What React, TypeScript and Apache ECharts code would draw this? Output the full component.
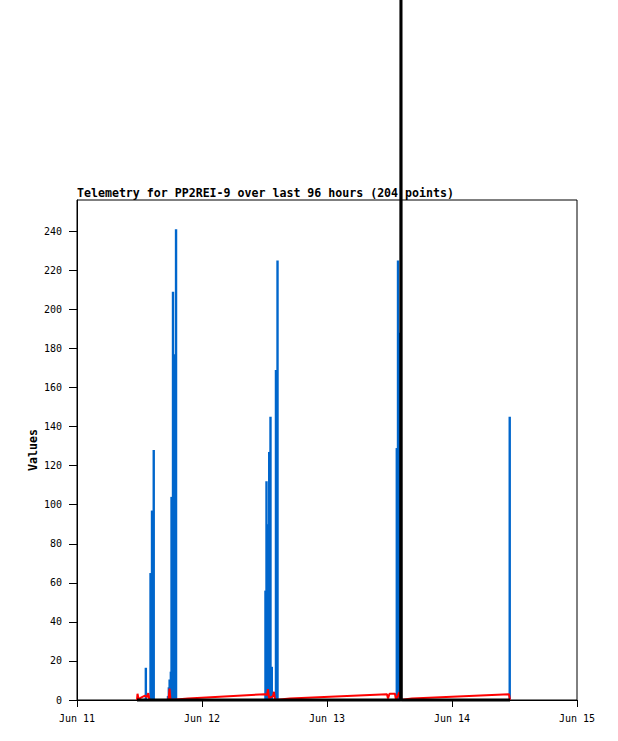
import React, { useEffect, useRef } from "react";
import * as echarts from "echarts";

const YEAR = 2024;
const TITLE = "Telemetry for PP2REI-9 over last 96 hours (204 points)";
const Y_NAME = "Values";
const MONTHS = ["Jan", "Feb", "Mar", "Apr", "May", "Jun", "Jul", "Aug", "Sep", "Oct", "Nov", "Dec"];
const X_START = "06-11 00:00";
const X_END = "06-15 00:00";
const X_TICK_HOURS = 24;
const Y_TICKS = [0, 20, 40, 60, 80, 100, 120, 140, 160, 180, 200, 220, 240];
const Y_MAX = 256;

// blue channel (impulses)
const blueData: [string, number][] = [
  ["06-11 13:13", 16.5],
  ["06-11 14:07", 65],
  ["06-11 14:24", 97],
  ["06-11 14:44", 128],
  ["06-11 17:28", 2],
  ["06-11 17:38", 6.5],
  ["06-11 17:47", 10.5],
  ["06-11 18:01", 14.5],
  ["06-11 18:09", 104],
  ["06-11 18:26", 209],
  ["06-11 18:43", 177],
  ["06-11 19:01", 241],
  ["06-12 12:11", 56],
  ["06-12 12:23", 112],
  ["06-12 12:37", 90],
  ["06-12 12:54", 127],
  ["06-12 13:09", 145],
  ["06-12 13:24", 17],
  ["06-12 14:12", 169],
  ["06-12 14:30", 225],
  ["06-13 13:24", 129],
  ["06-13 13:38", 225],
  ["06-13 13:53", 188],
  ["06-13 14:04", 38],
  ["06-14 11:05", 145],
];

// red channel (lines)
const redData: [string, number][] = [
  ["06-11 11:31", 0],
  ["06-11 11:37", 3.2],
  ["06-11 11:49", 0.5],
  ["06-11 12:17", 1.2],
  ["06-11 13:03", 2.2],
  ["06-11 13:26", 1.5],
  ["06-11 13:41", 3.5],
  ["06-11 13:55", 0],
  ["06-11 17:34", 0],
  ["06-11 17:46", 5.8],
  ["06-11 17:57", 0],
  ["06-11 21:19", 0.8],
  ["06-12 12:06", 3.0],
  ["06-12 12:29", 2.5],
  ["06-12 12:40", 5.6],
  ["06-12 12:52", 1],
  ["06-12 13:38", 2],
  ["06-12 13:49", 4.2],
  ["06-12 14:01", 0],
  ["06-12 16:54", 0.8],
  ["06-13 11:31", 3.0],
  ["06-13 11:43", 0.8],
  ["06-13 12:00", 3.2],
  ["06-13 13:03", 3.2],
  ["06-13 13:15", 0],
  ["06-13 13:53", 4],
  ["06-13 14:01", 0],
  ["06-13 16:19", 0.8],
  ["06-14 10:57", 3.0],
  ["06-14 11:08", 0],
];

// black channel (lines)
const blackData: [string, number][] = [
  ["06-11 11:31", 0],
  ["06-13 14:09", 0],
  ["06-13 14:12", 400],
  ["06-13 14:16", 0],
  ["06-14 11:08", 0],
];

const parseT = (s: string): number => {
  const [md, hm] = s.split(" ");
  const [mo, d] = md.split("-").map(Number);
  const [h, m] = hm.split(":").map(Number);
  return new Date(YEAR, mo - 1, d, h, m).getTime();
};
const T0 = parseT(X_START);
const toHours = (s: string): number => (parseT(s) - T0) / 3600000;

const FONT = "DejaVu Sans Mono";

export default function App() {
  const ref = useRef<HTMLDivElement>(null);
  useEffect(() => {
    if (!ref.current) return;
    const chart = echarts.init(ref.current, undefined, { renderer: "svg" });
    chart.setOption({
      animation: false,
      backgroundColor: "#fff",
      title: {
        text: TITLE,
        left: 77,
        top: 187,
        padding: 0,
        textStyle: { fontFamily: FONT, fontWeight: "bold", fontSize: 11.6, color: "#000" },
      },
      grid: {
        left: 77,
        right: 41,
        top: 200,
        bottom: 41,
        show: true,
        borderColor: "#000",
        borderWidth: 1,
        backgroundColor: "transparent",
      },
      xAxis: {
        type: "value",
        min: 0,
        max: toHours(X_END),
        interval: X_TICK_HOURS,
        axisLine: { show: true, onZero: false, lineStyle: { color: "#000", width: 1 } },
        axisTick: { show: true, length: 7, lineStyle: { color: "#000" } },
        splitLine: { show: false },
        axisLabel: {
          showMinLabel: true,
          showMaxLabel: true,
          margin: 13,
          fontFamily: FONT,
          fontSize: 10,
          color: "#000",
          formatter: (v: number) => {
            const d = new Date(T0 + v * 3600000);
            return `${MONTHS[d.getMonth()]} ${d.getDate()}`;
          },
        },
      },
      yAxis: {
        type: "value",
        min: 0,
        max: Y_MAX,
        name: Y_NAME,
        nameLocation: "middle",
        nameRotate: 90,
        nameGap: 38,
        nameMoveOverlap: false,
        nameTextStyle: { fontFamily: FONT, fontWeight: "bold", fontSize: 11.6, color: "#000" },
        axisLine: { show: true, lineStyle: { color: "#000", width: 1 } },
        axisTick: { show: true, length: 8, lineStyle: { color: "#000" }, customValues: Y_TICKS },
        splitLine: { show: false },
        axisLabel: {
          customValues: Y_TICKS,
          margin: 15,
          fontFamily: FONT,
          fontSize: 10,
          color: "#000",
        },
      },
      series: [
        {
          type: "bar",
          data: blueData.map(([t, v]) => [toHours(t), v]),
          barWidth: 2.4,
          itemStyle: { color: "#0066cc" },
          z: 2,
        },
        {
          type: "line",
          data: redData.map(([t, v]) => [toHours(t), v]),
          showSymbol: false,
          symbol: "none",
          lineStyle: { color: "#ff0000", width: 2 },
          z: 3,
        },
        {
          type: "line",
          data: blackData.map(([t, v]) => [toHours(t), v]),
          showSymbol: false,
          symbol: "none",
          clip: false,
          lineStyle: { color: "#000", width: 3 },
          z: 4,
        },
      ],
    });
    return () => chart.dispose();
  }, []);
  return (
    <div
      ref={ref}
      style={{ position: "absolute", left: 0, top: 0, width: 618, height: 741 }}
    />
  );
}
